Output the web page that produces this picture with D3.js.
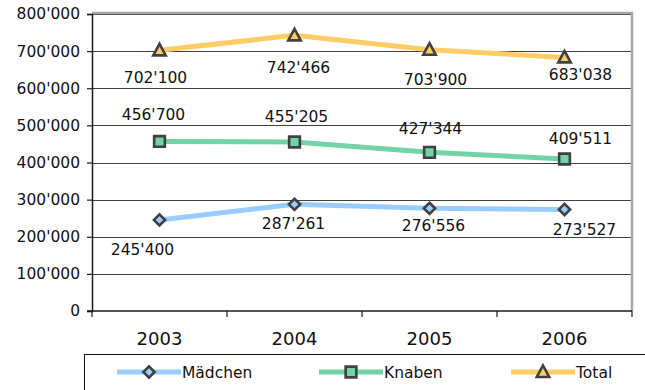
<!DOCTYPE html>
<html>
<head>
<meta charset="utf-8">
<script src="https://cdn.jsdelivr.net/npm/d3@7"></script>
<style>
  html, body { margin: 0; padding: 0; background: #fff; }
  svg { display: block; font-family: "DejaVu Sans", Verdana, sans-serif; }
</style>
</head>
<body>
<svg id="chart" width="645" height="390"></svg>
<script>
// Schülerzahlen nach Geschlecht, 2003–2006
const years = ["2003", "2004", "2005", "2006"];
const maedchen = [245400, 287261, 276556, 273527];
const knaben = [456700, 455205, 427344, 409511];
const total = [702100, 742466, 703900, 683038];
const yTicks = [0, 100000, 200000, 300000, 400000, 500000, 600000, 700000, 800000];

const series = [
  { name: "Mädchen", values: maedchen, color: "#99ccff", symbol: "diamond",
    // label offsets relative to the marker: [dx, dy(baseline)]
    labelOffsets: [[-17, 35], [-1, 25], [4, 23], [20, 26]] },
  { name: "Knaben", values: knaben, color: "#72d3a6", symbol: "square",
    labelOffsets: [[-6, -21], [2, -20], [1, -18], [16, -15]] },
  { name: "Total", values: total, color: "#ffcc66", symbol: "triangle",
    labelOffsets: [[-4, 33], [4, 38], [6, 35], [16, 23]] }
];

const fmt = v => d3.format(",")(v).replace(/,/g, "'");

const svg = d3.select("#chart");
const plot = { left: 92, right: 632, top: 13, bottom: 311 };

const x = d3.scaleBand().domain(years).range([plot.left, plot.right]);
const y = d3.scaleLinear().domain([0, 800000]).range([plot.bottom, plot.top + 1]);
const cx = d => x(d) + x.bandwidth() / 2;

// horizontal gridlines
svg.append("g").selectAll("line").data(yTicks.filter(t => t > 0)).join("line")
  .attr("x1", plot.left).attr("x2", plot.right)
  .attr("y1", d => Math.round(y(d)) + 0.5).attr("y2", d => Math.round(y(d)) + 0.5)
  .attr("stroke", "#404040").attr("stroke-width", 1);

// plot area frame (top & right)
svg.append("path")
  .attr("d", `M${plot.left},${plot.top} H${plot.right} V${plot.bottom}`)
  .attr("fill", "none").attr("stroke", "#a6a6a6").attr("stroke-width", 2.5);

// y axis
const yAxis = d3.axisLeft(y).tickValues(yTicks).tickFormat(fmt).tickSize(5).tickPadding(7);
const gy = svg.append("g").attr("transform", `translate(${plot.left},0)`).call(yAxis);
gy.select(".domain").attr("stroke", "#1a1a1a").attr("stroke-width", 1.5);
gy.selectAll(".tick line").attr("stroke", "#1a1a1a").attr("stroke-width", 1.2);
gy.selectAll(".tick text").attr("font-size", "15.5px").attr("fill", "#111")
  .attr("font-family", "DejaVu Sans, Verdana, sans-serif");

// x axis with ticks at category boundaries
const xAxisG = svg.append("g").attr("transform", `translate(0,${plot.bottom})`);
xAxisG.append("line").attr("x1", plot.left - 5).attr("x2", plot.right)
  .attr("y1", 0).attr("y2", 0).attr("stroke", "#1a1a1a").attr("stroke-width", 1.5);
const bounds = years.map(d => x(d)).concat([plot.right]);
xAxisG.selectAll("line.tk").data(bounds).join("line").attr("class", "tk")
  .attr("x1", d => d).attr("x2", d => d).attr("y1", 0).attr("y2", 6)
  .attr("stroke", "#1a1a1a").attr("stroke-width", 1.2);
xAxisG.selectAll("text").data(years).join("text")
  .attr("x", d => cx(d)).attr("y", 34)
  .attr("text-anchor", "middle").attr("font-size", "18px").attr("fill", "#111")
  .text(d => d);

// marker symbols
const symbolPath = (type) => {
  if (type === "diamond") return "M0,-5.6 L5.6,0 L0,5.6 L-5.6,0 Z";
  if (type === "square") return d3.symbol(d3.symbolSquare, 115)();
  return "M0,-6.5 L6.2,5 L-6.2,5 Z";
};

const line = d3.line().x((d, i) => cx(years[i])).y(d => y(d));

series.forEach(s => {
  const g = svg.append("g");
  g.append("path").datum(s.values).attr("d", line)
    .attr("fill", "none").attr("stroke", s.color).attr("stroke-width", 5)
    .attr("stroke-linejoin", "round");
  g.selectAll("path.m").data(s.values).join("path").attr("class", "m")
    .attr("d", symbolPath(s.symbol))
    .attr("transform", (d, i) => `translate(${cx(years[i])},${y(d)})`)
    .attr("fill", s.color).attr("stroke", "#404040").attr("stroke-width", 2.6);
  g.selectAll("text").data(s.values).join("text")
    .attr("x", (d, i) => cx(years[i]) + s.labelOffsets[i][0])
    .attr("y", (d, i) => y(d) + s.labelOffsets[i][1])
    .attr("text-anchor", "middle").attr("font-size", "15.5px").attr("fill", "#111")
    .text(d => fmt(d));
});

// legend
const legend = svg.append("g");
legend.append("rect").attr("x", 84.5).attr("y", 354.5).attr("width", 600).attr("height", 60)
  .attr("fill", "#fff").attr("stroke", "#111").attr("stroke-width", 1);
const legendX = [117, 319, 511];
const ly = 372;
series.forEach((s, i) => {
  const lx = legendX[i];
  legend.append("line").attr("x1", lx).attr("x2", lx + 64).attr("y1", ly).attr("y2", ly)
    .attr("stroke", s.color).attr("stroke-width", 5);
  legend.append("path").attr("d", symbolPath(s.symbol))
    .attr("transform", `translate(${lx + 32},${ly})`)
    .attr("fill", s.color).attr("stroke", "#404040").attr("stroke-width", 2.6);
  legend.append("text").attr("x", lx + 65).attr("y", ly + 6)
    .attr("font-size", "15.5px").attr("fill", "#111").text(s.name);
});
</script>
</body>
</html>
